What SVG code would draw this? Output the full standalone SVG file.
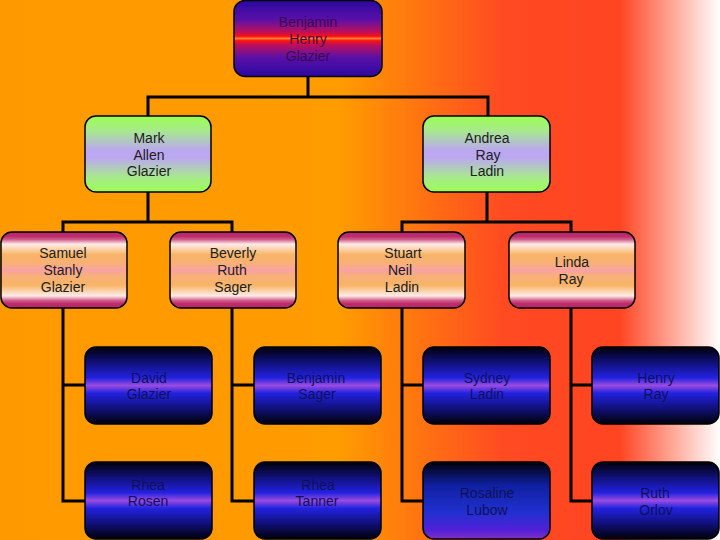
<svg xmlns="http://www.w3.org/2000/svg" width="720" height="540" viewBox="0 0 720 540">
<defs>
<linearGradient id="bg" x1="0" y1="0" x2="1" y2="0">
<stop offset="0" stop-color="#FF9900"/>
<stop offset="0.47" stop-color="#FF9C00"/>
<stop offset="0.70" stop-color="#FF4A22"/>
<stop offset="0.86" stop-color="#FF4422"/>
<stop offset="1" stop-color="#FFFFFF"/>
</linearGradient>
<linearGradient id="gTop" x1="0" y1="0" x2="0" y2="1">
<stop offset="0" stop-color="#2A08A0"/>
<stop offset="0.25" stop-color="#5A10A8"/>
<stop offset="0.42" stop-color="#C01058"/>
<stop offset="0.47" stop-color="#FF1010"/>
<stop offset="0.5" stop-color="#FF8030"/>
<stop offset="0.53" stop-color="#FF1010"/>
<stop offset="0.58" stop-color="#C01058"/>
<stop offset="0.75" stop-color="#5A10A8"/>
<stop offset="1" stop-color="#2A08A0"/>
</linearGradient>
<linearGradient id="gMid" x1="0" y1="0" x2="0" y2="1">
<stop offset="0" stop-color="#9CFF50"/>
<stop offset="0.2" stop-color="#A8E890"/>
<stop offset="0.45" stop-color="#BBA8F0"/>
<stop offset="0.55" stop-color="#BBA8F0"/>
<stop offset="0.8" stop-color="#A8E890"/>
<stop offset="1" stop-color="#9CFF50"/>
</linearGradient>
<linearGradient id="gStripe" x1="0" y1="0" x2="0" y2="1">
<stop offset="0" stop-color="#B02868"/>
<stop offset="0.06" stop-color="#C02C6C"/>
<stop offset="0.1" stop-color="#D0608C"/>
<stop offset="0.16" stop-color="#FFECE8"/>
<stop offset="0.3" stop-color="#F8B466"/>
<stop offset="0.42" stop-color="#F8B078"/>
<stop offset="0.5" stop-color="#F8A2A6"/>
<stop offset="0.58" stop-color="#F8B078"/>
<stop offset="0.7" stop-color="#F8B466"/>
<stop offset="0.84" stop-color="#FFECE8"/>
<stop offset="0.9" stop-color="#D0608C"/>
<stop offset="0.94" stop-color="#C02C6C"/>
<stop offset="1" stop-color="#B02868"/>
</linearGradient>
<linearGradient id="gLow" x1="0" y1="0" x2="0" y2="1">
<stop offset="0" stop-color="#000008"/>
<stop offset="0.2" stop-color="#101078"/>
<stop offset="0.4" stop-color="#2222E0"/>
<stop offset="0.5" stop-color="#9A4CE0"/>
<stop offset="0.6" stop-color="#2222E0"/>
<stop offset="0.8" stop-color="#101078"/>
<stop offset="1" stop-color="#000008"/>
</linearGradient>
<linearGradient id="gLow2" x1="0" y1="0" x2="0" y2="1">
<stop offset="0" stop-color="#000008"/>
<stop offset="0.3" stop-color="#1020A0"/>
<stop offset="0.65" stop-color="#2030D0"/>
<stop offset="0.88" stop-color="#5020D8"/>
<stop offset="1" stop-color="#8030C0"/>
</linearGradient>
</defs>
<style>
.box{stroke:#000;stroke-width:1.5}
.t{font-family:"Liberation Sans",Arial,sans-serif;font-size:14px;text-anchor:middle}
.tTop{fill:#3A0850}
.tMid{fill:#202020}
.tLow{fill:#101058}
.c{stroke:#000;stroke-width:3;fill:none}
</style>
<rect x="0" y="0" width="720" height="540" fill="url(#bg)"/>
<g id="connectors">
<path class="c" d="M308 77V97M148 116V97H488V116"/>
<path class="c" d="M148 192V222M63 232V222H232V232"/>
<path class="c" d="M487 192V222M402 232V222H571V232"/>
<path class="c" d="M63 308V501H85M63 385H85"/>
<path class="c" d="M232 308V501H254M232 385H254"/>
<path class="c" d="M402 308V501H423M402 385H423"/>
<path class="c" d="M571 308V501H592M571 385H592"/>
</g>
<g id="n-benjamin-henry">
<rect class="box" x="234" y="0.5" width="148" height="76" rx="11" fill="url(#gTop)"/>
<text class="t tTop" x="308" y="27">Benjamin</text>
<text class="t tTop" x="308" y="44">Henry</text>
<text class="t tTop" x="308" y="61">Glazier</text>
</g>
<g id="n-mark">
<rect class="box" x="85" y="116" width="126" height="76" rx="11" fill="url(#gMid)"/>
<text class="t tMid" x="149" y="143">Mark</text>
<text class="t tMid" x="149" y="160">Allen</text>
<text class="t tMid" x="149" y="176">Glazier</text>
</g>
<g id="n-andrea">
<rect class="box" x="423" y="116" width="127" height="76" rx="11" fill="url(#gMid)"/>
<text class="t tMid" x="487" y="143">Andrea</text>
<text class="t tMid" x="488" y="160">Ray</text>
<text class="t tMid" x="487" y="176">Ladin</text>
</g>
<g id="n-samuel">
<rect class="box" x="1" y="232" width="126" height="76" rx="11" fill="url(#gStripe)"/>
<text class="t tMid" x="63" y="258">Samuel</text>
<text class="t tMid" x="63" y="275">Stanly</text>
<text class="t tMid" x="63" y="292">Glazier</text>
</g>
<g id="n-beverly">
<rect class="box" x="170" y="232" width="126" height="76" rx="11" fill="url(#gStripe)"/>
<text class="t tMid" x="233" y="258">Beverly</text>
<text class="t tMid" x="232" y="275">Ruth</text>
<text class="t tMid" x="233" y="292">Sager</text>
</g>
<g id="n-stuart">
<rect class="box" x="338" y="232" width="127" height="76" rx="11" fill="url(#gStripe)"/>
<text class="t tMid" x="403" y="258">Stuart</text>
<text class="t tMid" x="400" y="275">Neil</text>
<text class="t tMid" x="402" y="292">Ladin</text>
</g>
<g id="n-linda">
<rect class="box" x="509" y="232" width="126" height="76" rx="11" fill="url(#gStripe)"/>
<text class="t tMid" x="572" y="267">Linda</text>
<text class="t tMid" x="571" y="284">Ray</text>
</g>
<g id="n-david">
<rect class="box" x="85" y="347" width="127" height="77" rx="11" fill="url(#gLow)"/>
<text class="t tLow" x="149" y="383">David</text>
<text class="t tLow" x="149" y="399">Glazier</text>
</g>
<g id="n-benjamin-sager">
<rect class="box" x="254" y="347" width="127" height="77" rx="11" fill="url(#gLow)"/>
<text class="t tLow" x="316" y="383">Benjamin</text>
<text class="t tLow" x="317" y="399">Sager</text>
</g>
<g id="n-sydney">
<rect class="box" x="423" y="347" width="127" height="77" rx="11" fill="url(#gLow)"/>
<text class="t tLow" x="487" y="383">Sydney</text>
<text class="t tLow" x="487" y="399">Ladin</text>
</g>
<g id="n-henry-ray">
<rect class="box" x="592" y="347" width="127" height="77" rx="11" fill="url(#gLow)"/>
<text class="t tLow" x="656" y="383">Henry</text>
<text class="t tLow" x="656" y="399">Ray</text>
</g>
<g id="n-rhea-rosen">
<rect class="box" x="85" y="462" width="127" height="77" rx="11" fill="url(#gLow)"/>
<text class="t tLow" x="148" y="490">Rhea</text>
<text class="t tLow" x="148" y="506">Rosen</text>
</g>
<g id="n-rhea-tanner">
<rect class="box" x="254" y="462" width="127" height="77" rx="11" fill="url(#gLow)"/>
<text class="t tLow" x="318" y="490">Rhea</text>
<text class="t tLow" x="317" y="506">Tanner</text>
</g>
<g id="n-rosaline">
<rect class="box" x="423" y="462" width="127" height="77" rx="11" fill="url(#gLow2)"/>
<text class="t tLow" x="487" y="498">Rosaline</text>
<text class="t tLow" x="487" y="515">Lubow</text>
</g>
<g id="n-ruth">
<rect class="box" x="592" y="462" width="127" height="77" rx="11" fill="url(#gLow)"/>
<text class="t tLow" x="655" y="498">Ruth</text>
<text class="t tLow" x="656" y="515">Orlov</text>
</g>
</svg>
